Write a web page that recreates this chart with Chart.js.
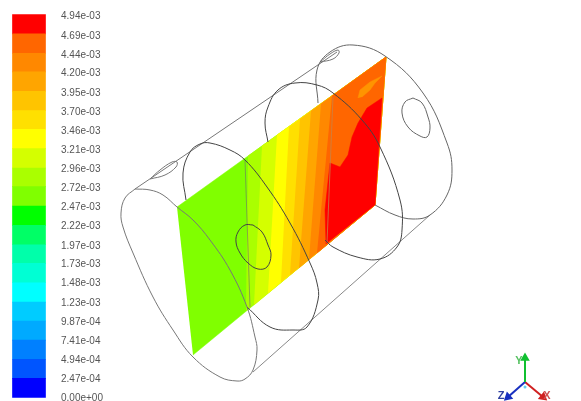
<!DOCTYPE html>
<html>
<head>
<meta charset="utf-8">
<style>
  html, body { margin: 0; padding: 0; background: #fff; overflow: hidden; }
  canvas { display: block; filter: blur(0.4px); }
</style>
<script src="https://cdn.jsdelivr.net/npm/chart.js@4"></script>
</head>
<body>
<canvas id="myChart" width="581" height="401"></canvas>
<script>
// colour bar, top label first
const tickLabels = ['4.94e-03','4.69e-03','4.44e-03','4.20e-03','3.95e-03','3.70e-03','3.46e-03',
  '3.21e-03','2.96e-03','2.72e-03','2.47e-03','2.22e-03','1.97e-03','1.73e-03','1.48e-03','1.23e-03',
  '9.87e-04','7.41e-04','4.94e-04','2.47e-04','0.00e+00']
const bandColors = ['#ff0000','#ff6600','#ff8800','#ffa500','#ffc400','#ffe000','#ffff00','#d4ff00',
  '#aaff00','#80ff00','#00ff00','#00ff66','#00ffaa','#00ffd4','#00ffff','#00ccff','#00aaff','#0080ff',
  '#0055ff','#0000ff']

// plate corners
const plate = [[177,207],[386,57],[375,205],[193,355]]
// where each contour meets the top and bottom edge of the plate
const contourColors = ['#aaff00','#d4ff00','#ffff00','#ffe000','#ffc400','#ffa500','#ff8800','#ff6600']
const contourTop = [[248,156],[262,146],[277,135],[289,127],[300,119],[311,111],[321,104],[332,96]]
const contourBottom = [[246,311],[254,305],[268,293],[281,282],[290,275],[299,268],[309,259],[317,253]]
const redPatch = [[326,244],[325,210],[330,163],[340,167],[348,155],[352,137],[358,123],[367,108],[382,98],[375,205]]
const orangePatch = [[358,98],[360,90],[370,82],[382,76],[375,83],[370,90],[362,97]]

// wireframe
const frontCircle = [[135,189],[150,190],[163,195],[177,207],[193,220],[210,240],[230,270],
  [247,307],[255,337],[257,350],[253,370],[245,379],[237,381],[220,377],[193,357],[173,330],[153,297],[133,253],[123,227],[121,213],[125,198],[135,189]]
const circle2 = [[186,200],[183,173],[190,152],[200,144],[210,143],[230,150],[245,160],[267,187],[290,223],[310,263],
  [317,283],[318,300],[307,327],[293,330],[270,327],[247,307]]
const circle3 = [[268,142],[265,123],[268,107],[278,90],[295,83],[317,85],[333,93],[362,120],[380,147],[400,200],
  [402,230],[397,247],[380,259],[357,257],[333,247],[325,240]]
const backCircle = [[318,103],[317,70],[330,52],[353,45],[385,56],[423,93],[447,143],[452,170],[447,195],[430,215],
  [413,219],[395,215],[375,205]]
const topLine = [[135,189],[337,52]]
const bottomLine = [[253,372],[430,215]]
const plateLines = [[[245,160],[250,307]],[[333,97],[327,243]]]
const holes = [
  [[150,179],[160,170],[172,162],[177,162],[176,167],[165,175],[150,179]],
  [[320,62],[330,54],[338,50],[339,53],[333,59],[320,62]],
  [[413,98],[422,103],[428,117],[430,128],[427,137],[420,136],[408,127],[402,113],[405,102],[413,98]],
  [[253,225],[262,232],[268,245],[271,255],[267,267],[258,269],[248,263],[240,253],[236,242],[238,232],[245,225],[253,225]]
]

// axes triad
const triadY = [[525,382],[525,358]]
const triadZ = [[525,382],[508,397]]
const triadX = [[525,382],[543,397]]
const triadDot = [[525,387]]
const triadText = [['Y',519,361,'#55c060'],['Z',501,396,'#3040a0'],['X',547,396,'#d05050']]

const xy = (list) => list.map(p => ({x: p[0], y: p[1]}))

const polygon = (list, color) => ({
  data: xy(list), showLine: true, fill: 'shape', backgroundColor: color, borderColor: color,
  borderWidth: 0.5, pointRadius: 0
})
const wire = (list, color, smooth) => ({
  data: xy(list), showLine: true, fill: false, borderColor: color, borderWidth: 1,
  pointRadius: 0, tension: smooth ? 0.4 : 0
})
const arrow = (list, color, angle) => ({
  data: xy(list), showLine: true, fill: false, borderColor: color, borderWidth: 2,
  pointStyle: 'triangle', pointRadius: [0, 3.5], pointRotation: [0, angle],
  pointBackgroundColor: color, pointBorderColor: color
})

// first one in the list is painted last, so it goes on top
const layers = [
  arrow(triadY, '#10c030', 0),
  arrow(triadZ, '#1830c0', 228),
  arrow(triadX, '#d02020', 130),
  { data: xy(triadDot), pointRadius: 1.5, pointBackgroundColor: '#60d0f0', pointBorderWidth: 0 },
  wire(frontCircle, '#777777', true),
  wire(circle2, '#444444', true),
  wire(circle3, '#444444', true),
  wire(backCircle, '#666666', true),
  wire(topLine, '#777777'),
  wire(bottomLine, '#888888'),
  wire(holes[0], '#777777', true),
  wire(holes[1], '#777777', true),
  wire(holes[2], '#666666', true),
  wire(holes[3], '#444444', true),
  wire(plateLines[0], 'rgba(110,110,110,0.6)'),
  wire(plateLines[1], 'rgba(200,130,70,0.8)'),
  polygon(orangePatch, '#ff9400'),
  polygon(redPatch, '#ff0000')
]
for (let i = contourColors.length - 1; i >= 0; i--) {
  layers.push(polygon([contourTop[i], plate[1], plate[2], contourBottom[i]], contourColors[i]))
}
layers.push(polygon(plate, '#80ff00'))

const colorBar = {
  type: 'bar',
  yAxisID: 'cbar',
  data: bandColors.map((c, i) => ({x: 29, y: [Number(tickLabels[i + 1]), Number(tickLabels[i])]})),
  backgroundColor: bandColors,
  barThickness: 33,
  borderWidth: 0
}

const triadLabels = {
  id: 'triadLabels',
  afterDatasetsDraw(chart) {
    const {ctx, scales} = chart
    ctx.save()
    ctx.font = 'bold 11px "Liberation Sans"'
    ctx.textAlign = 'center'
    ctx.textBaseline = 'middle'
    triadText.forEach(t => {
      ctx.fillStyle = t[3]
      ctx.fillText(t[0], scales.x.getPixelForValue(t[1]), scales.y.getPixelForValue(t[2]))
    })
    ctx.restore()
  }
}

const flat = (s) => { s.width = 0; s.paddingTop = 0; s.paddingBottom = 0; s.paddingLeft = 0; s.paddingRight = 0 }

new Chart(document.getElementById('myChart'), {
  type: 'scatter',
  data: { datasets: [...layers, colorBar] },
  plugins: [triadLabels],
  options: {
    responsive: false,
    animation: false,
    layout: { padding: 0, autoPadding: false },
    plugins: { legend: { display: false }, tooltip: { enabled: false } },
    scales: {
      x: { type: 'linear', min: 0, max: 581, display: false, offset: false },
      y: { type: 'linear', min: 0, max: 401, reverse: true, display: false },
      cbar: { type: 'linear', position: 'left', min: -4.5e-5, max: 5.127e-3, display: false },
      // labels sit a little lower on the bar than the band edges
      cbarLabels: {
        type: 'linear',
        position: 'left',
        min: -3.88e-5,
        max: 5.1537e-3,
        grid: { display: false, drawTicks: false },
        border: { display: false },
        afterBuildTicks: (s) => { s.ticks = tickLabels.map(l => ({value: Number(l)})) },
        afterFit: flat,
        ticks: {
          mirror: true,
          padding: 61,
          autoSkip: false,
          color: '#555555',
          font: { family: '"Liberation Sans"', size: 10 },
          callback: (v, i) => tickLabels[i]
        }
      }
    }
  }
})
</script>
</body>
</html>
